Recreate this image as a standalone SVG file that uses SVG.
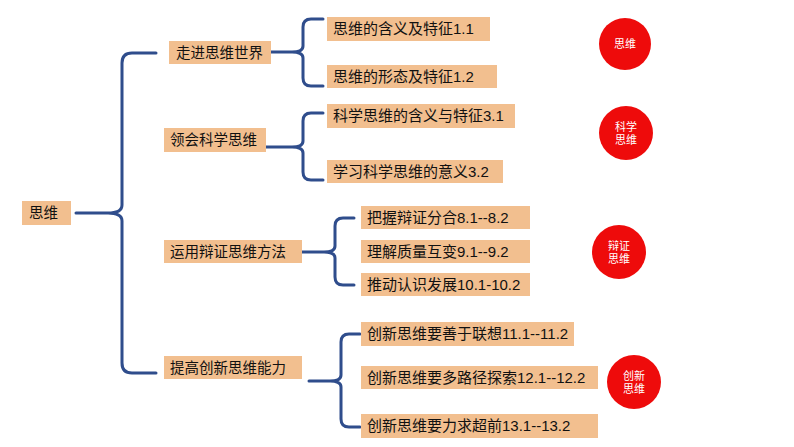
<svg xmlns="http://www.w3.org/2000/svg" width="794" height="447" viewBox="0 0 794 447">
<style>
.box{fill:#F2BF8F}
.t{font-family:"Liberation Sans","Noto Sans CJK SC",sans-serif;font-size:15px;fill:#111}
.t1{font-family:"Liberation Sans","Noto Sans CJK SC",sans-serif;font-size:14.5px;fill:#111}
.c{fill:#EE0B0B}
.ct{font-family:"Liberation Sans","Noto Sans CJK SC",sans-serif;font-size:11px;fill:#fff;text-anchor:middle}
.br{fill:none;stroke:#2F4D8C;stroke-width:3;stroke-linecap:round;stroke-linejoin:round}
</style>
<rect width="794" height="447" fill="#fff"/>
<g id="connectors">
<path class="br" d="M76,213 H108 Q122,213 122,205 V63 Q122,53 132,53 H156 M108,213 Q122,213 122,221 V363 Q122,373 132,373 H156"/>
<path class="br" d="M271,52 H292 Q303,52 303,46 V27 Q303,19 311,19 H323 M292,52 Q303,52 303,58 V78 Q303,86 311,86 H323"/>
<path class="br" d="M266,147 H292 Q303,147 303,141 V121 Q303,113 311,113 H323 M292,147 Q303,147 303,153 V172 Q303,180 311,180 H323"/>
<path class="br" d="M302,252 H324 Q335,252 335,246 V226 Q335,218 343,218 H354 M324,252 Q335,252 335,258 V277 Q335,285 343,285 H354"/>
<path class="br" d="M309,381 H330 Q341,381 341,375 V342 Q341,334 349,334 H360 M330,381 Q341,381 341,387 V419 Q341,427 349,427 H360"/>
</g>
<g id="root"><rect class="box" x="22" y="201" width="49" height="24"/><text class="t1" x="29" y="218">思维</text></g>
<g id="n1"><rect class="box" x="169" y="41" width="102" height="23"/><text class="t1" x="176" y="58">走进思维世界</text></g>
<g id="n2"><rect class="box" x="164" y="128" width="102" height="24"/><text class="t1" x="170" y="145">领会科学思维</text></g>
<g id="n3"><rect class="box" x="164" y="240" width="138" height="23"/><text class="t1" x="170" y="257">运用辩证思维方法</text></g>
<g id="n4"><rect class="box" x="164" y="356" width="138" height="23"/><text class="t1" x="170" y="373">提高创新思维能力</text></g>
<g id="n11"><rect class="box" x="327" y="17" width="163" height="24"/><text class="t" x="333" y="34">思维的含义及特征1.1</text></g>
<g id="n12"><rect class="box" x="327" y="65" width="170" height="23"/><text class="t" x="333" y="82">思维的形态及特征1.2</text></g>
<g id="n21"><rect class="box" x="327" y="104" width="188" height="24"/><text class="t" x="333" y="121">科学思维的含义与特征3.1</text></g>
<g id="n22"><rect class="box" x="327" y="160" width="176" height="23"/><text class="t" x="333" y="177">学习科学思维的意义3.2</text></g>
<g id="n31"><rect class="box" x="361" y="206" width="169" height="23"/><text class="t" x="367" y="223">把握辩证分合8.1--8.2</text></g>
<g id="n32"><rect class="box" x="361" y="240" width="169" height="23"/><text class="t" x="367" y="257">理解质量互变9.1--9.2</text></g>
<g id="n33"><rect class="box" x="361" y="273" width="169" height="23"/><text class="t" x="367" y="290">推动认识发展10.1-10.2</text></g>
<g id="n41"><rect class="box" x="361" y="322" width="213" height="24"/><text class="t" x="367" y="339">创新思维要善于联想11.1--11.2</text></g>
<g id="n42"><rect class="box" x="361" y="366" width="237" height="23"/><text class="t" x="367" y="383">创新思维要多路径探索12.1--12.2</text></g>
<g id="n43"><rect class="box" x="361" y="414" width="237" height="24"/><text class="t" x="367" y="431">创新思维要力求超前13.1--13.2</text></g>
<g id="c1"><circle class="c" cx="625" cy="44" r="26"/><text class="ct" x="625" y="48">思维</text></g>
<g id="c2"><circle class="c" cx="626" cy="133" r="27"/><text class="ct" x="626" y="131">科学</text><text class="ct" x="626" y="144">思维</text></g>
<g id="c3"><circle class="c" cx="619" cy="252" r="27"/><text class="ct" x="619" y="250">辩证</text><text class="ct" x="619" y="263">思维</text></g>
<g id="c4"><circle class="c" cx="634" cy="382" r="27"/><text class="ct" x="634" y="380">创新</text><text class="ct" x="634" y="393">思维</text></g>
</svg>
